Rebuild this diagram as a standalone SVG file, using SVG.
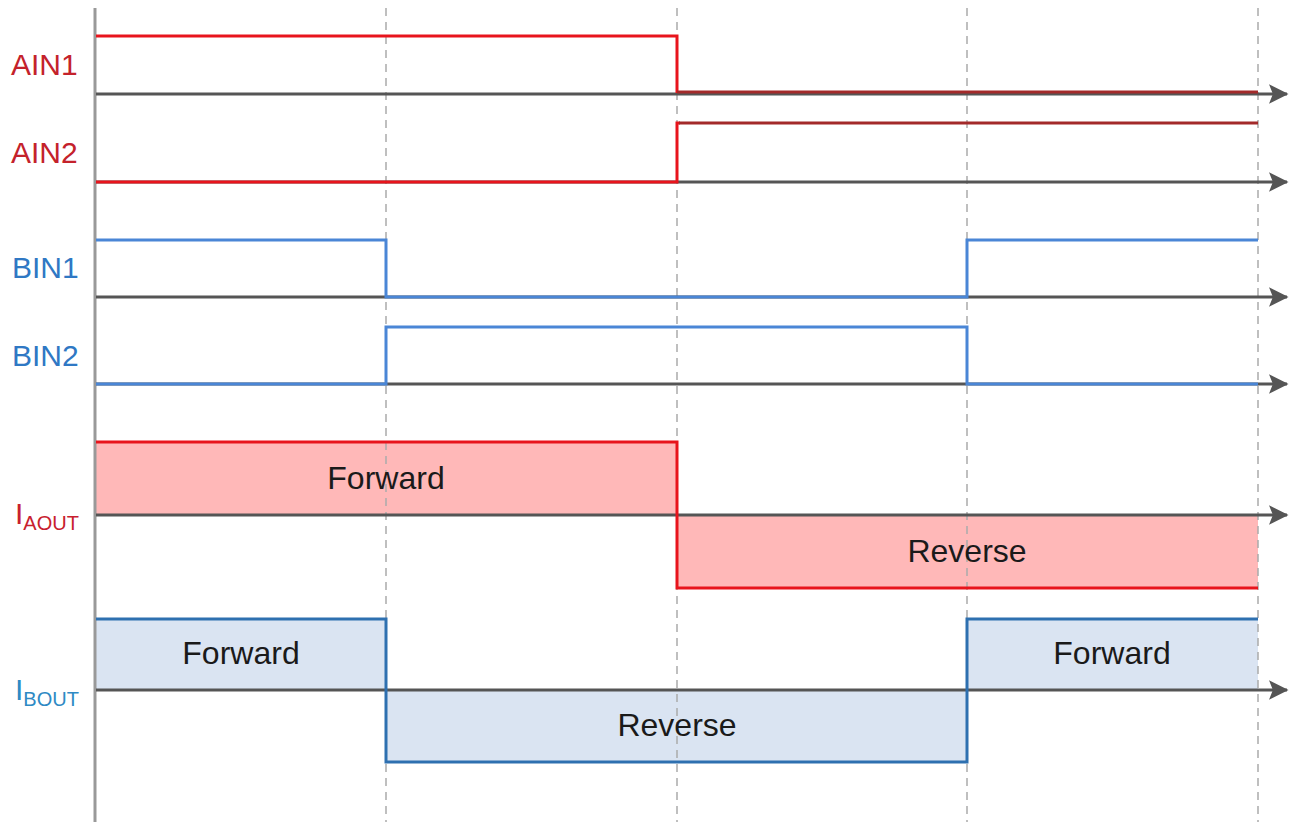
<svg xmlns="http://www.w3.org/2000/svg" width="1298" height="825" viewBox="0 0 1298 825">
<style>
.lbl{font-family:"Liberation Sans",Arial,sans-serif;font-size:30px}
.red{fill:#C4222B}
.blue{fill:#2F78C4}
.txt{font-family:"Liberation Sans",Arial,sans-serif;font-size:32px;fill:#1a1a1a;text-anchor:middle}
.axis{stroke:#555;stroke-width:3;fill:none}
.grid{stroke:#aaa;stroke-width:1.5;stroke-dasharray:8 6;fill:none}
.sr{stroke:#E8141C;stroke-width:3;fill:none}
.sdr{stroke:#A32A2A;stroke-width:3;fill:none}
.sb{stroke:#4A86D6;stroke-width:3;fill:none}
.sdb{stroke:#2E70B0;stroke-width:3;fill:none}
</style>
<defs>
<marker id="arr" markerWidth="6.5" markerHeight="6.5" refX="6" refY="3.25" orient="auto" markerUnits="strokeWidth">
<path d="M0,0 L6.5,3.25 L0,6.5 L1.3,3.25 Z" fill="#555"/>
</marker>
</defs>
<rect width="1298" height="825" fill="#fff"/>
<g id="fills">
<rect x="96" y="442" width="581" height="73" fill="#FFB8B8"/>
<rect x="677" y="515" width="581" height="73" fill="#FFB8B8"/>
<rect x="96" y="619" width="290" height="71" fill="#DAE4F2"/>
<rect x="386" y="690" width="581" height="72" fill="#DAE4F2"/>
<rect x="967" y="619" width="291" height="71" fill="#DAE4F2"/>
</g>
<g id="grid">
<line class="grid" x1="386" y1="8" x2="386" y2="822"/>
<line class="grid" x1="677" y1="8" x2="677" y2="822"/>
<line class="grid" x1="967" y1="8" x2="967" y2="822"/>
<line class="grid" x1="1258" y1="8" x2="1258" y2="822"/>
<line x1="95" y1="8" x2="95" y2="822" stroke="#999" stroke-width="3"/>
</g>
<g id="connectors">
<line class="axis" x1="96" y1="94" x2="1287" y2="94" marker-end="url(#arr)"/>
<line class="axis" x1="96" y1="182" x2="1287" y2="182" marker-end="url(#arr)"/>
<line class="axis" x1="96" y1="297" x2="1287" y2="297" marker-end="url(#arr)"/>
<line class="axis" x1="96" y1="384" x2="1287" y2="384" marker-end="url(#arr)"/>
<line class="axis" x1="96" y1="515" x2="1287" y2="515" marker-end="url(#arr)"/>
<line class="axis" x1="96" y1="690" x2="1287" y2="690" marker-end="url(#arr)"/>
</g>
<g id="AIN1">
<polyline class="sr" points="96,36 677,36 677,93"/>
<line class="sdr" x1="677" y1="92" x2="1258" y2="92"/>
<text class="lbl red" x="11" y="75">AIN1</text>
</g>
<g id="AIN2">
<polyline class="sr" points="96,182 677,182 677,123 680,123"/>
<line class="sdr" x1="679" y1="123" x2="1258" y2="123"/>
<text class="lbl red" x="11" y="163">AIN2</text>
</g>
<g id="BIN1">
<polyline class="sb" points="96,240 386,240 386,297 967,297 967,240 1258,240"/>
<text class="lbl blue" x="12" y="278">BIN1</text>
</g>
<g id="BIN2">
<polyline class="sb" points="96,384 386,384 386,327 967,327 967,384 1258,384"/>
<text class="lbl blue" x="12" y="366">BIN2</text>
</g>
<g id="IAOUT">
<polyline class="sr" points="96,442 677,442 677,588 1258,588"/>
<text class="txt" x="386" y="489">Forward</text>
<text class="txt" x="967" y="562">Reverse</text>
<text class="lbl" x="15" y="524" fill="#C8202E">I<tspan font-size="20" dy="6">AOUT</tspan></text>
</g>
<g id="IBOUT">
<polyline class="sdb" points="96,619 386,619 386,762 967,762 967,619 1258,619"/>
<text class="txt" x="241" y="664">Forward</text>
<text class="txt" x="677" y="736">Reverse</text>
<text class="txt" x="1112" y="664">Forward</text>
<text class="lbl" x="15" y="700" fill="#2E8AC4">I<tspan font-size="20" dy="6">BOUT</tspan></text>
</g>
</svg>
